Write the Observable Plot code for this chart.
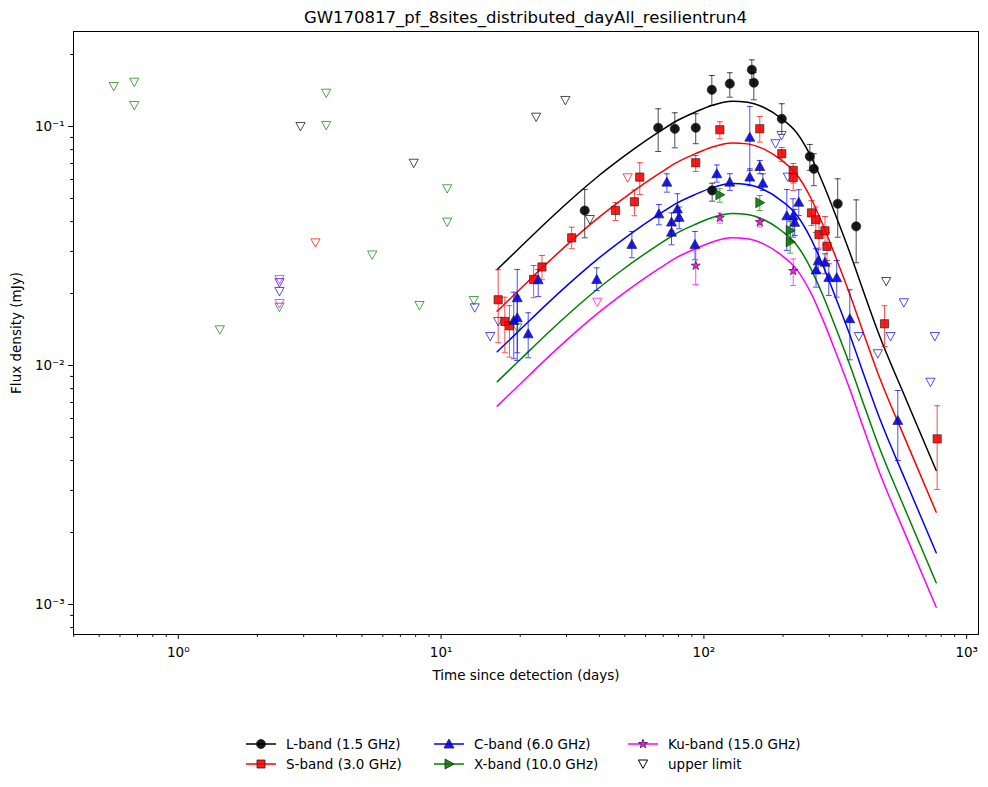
<!DOCTYPE html>
<html><head><meta charset="utf-8">
<script src="https://cdn.jsdelivr.net/npm/d3@7"></script>
<script src="https://cdn.jsdelivr.net/npm/@observablehq/plot@0.6"></script>
<style>
body{margin:0;background:#fff;font-family:"DejaVu Sans",sans-serif;color:#000;}
#title{margin-left:73px;width:905px;height:26px;text-align:center;font-size:16.5px;line-height:26px;}
#title span{position:relative;top:5px;}
#chart svg{display:block;}
#legend{position:relative;width:988px;height:96px;font-size:13.5px;}
#legend .it{position:absolute;}
#legend .lab{position:absolute;white-space:nowrap;line-height:16px;}
</style></head><body>
<div id="title"><span>GW170817_pf_8sites_distributed_dayAll_resilientrun4</span></div>
<div id="chart"></div>
<div id="legend"></div>
<script>
// ---------- data ----------
const titleText = "GW170817_pf_8sites_distributed_dayAll_resilientrun4";
const xLabel = "Time since detection (days)";
const yLabel = "Flux density (mJy)";
const legendLabels = ["L-band (1.5 GHz)", "S-band (3.0 GHz)", "C-band (6.0 GHz)", "X-band (10.0 GHz)", "Ku-band (15.0 GHz)", "upper limit"];

const xMajorTicks = [1, 10, 100, 1000];
const xMinorTicks = [0.4,0.5,0.6,0.7,0.8,0.9,2,3,4,5,6,7,8,9,20,30,40,50,60,70,80,90,200,300,400,500,600,700,800,900];
const yMajorTicks = [0.001, 0.01, 0.1];
const yMinorTicks = [0.0008,0.0009,0.002,0.003,0.004,0.005,0.006,0.007,0.008,0.009,0.02,0.03,0.04,0.05,0.06,0.07,0.08,0.09,0.2];

// model curves
const curveTime = [16.35,20.05,24.96,31.08,38.68,48.16,59.95,68.38,77.96,92.9,106.9,128.1,146.5,168.6,197.4,225.1,254.4,285.1,319.6,361.3,404.8,457.7,590.1,765.5];
const curveL = [0.02522,0.03131,0.03947,0.04927,0.06060,0.07312,0.08695,0.09576,0.1049,0.1150,0.1224,0.1276,0.1264,0.1204,0.1080,0.0944,0.0756,0.05719,0.04161,0.02914,0.02040,0.01401,0.007139,0.003636];
const curveS = [0.01688,0.02095,0.02641,0.03297,0.04055,0.04893,0.05818,0.06407,0.07019,0.07695,0.08190,0.08538,0.08457,0.08056,0.07226,0.06316,0.05058,0.03827,0.02784,0.01950,0.01365,0.00937,0.004777,0.002433];
const curveC = [0.01141,0.01416,0.01785,0.02228,0.02741,0.03307,0.03933,0.04331,0.04745,0.05201,0.05536,0.05771,0.05717,0.05446,0.04885,0.04270,0.03419,0.02587,0.01882,0.01318,0.00923,0.00634,0.003229,0.001645];
const curveX = [0.008550,0.01061,0.01338,0.01670,0.02054,0.02479,0.02948,0.03246,0.03556,0.03899,0.04149,0.04326,0.04285,0.04082,0.03661,0.03200,0.02563,0.01939,0.01411,0.00988,0.00692,0.00475,0.002420,0.001233];
const curveKu = [0.006759,0.008391,0.01058,0.01320,0.01624,0.01960,0.02330,0.02566,0.02811,0.03082,0.03280,0.03420,0.03388,0.03227,0.02894,0.02530,0.02026,0.01533,0.01115,0.00781,0.00547,0.00375,0.001913,0.000974];

// detections
const lTime = [35.2,67.0,77.5,93.1,107.2,107.5,125.5,152.2,154.9,197.9,253,262,323,379.7];
const lFlux = [0.0445,0.0988,0.0978,0.0988,0.1424,0.0540,0.1510,0.1727,0.1524,0.1077,0.0749,0.0665,0.0475,0.0382];
const lLo   = [0.0342,0.0786,0.0814,0.0847,0.1224,0.0487,0.1326,0.1570,0.1293,0.0926,0.0655,0.0565,0.0344,0.0269];
const lHi   = [0.0545,0.1186,0.1141,0.1130,0.1634,0.0579,0.1678,0.1900,0.1680,0.1245,0.0841,0.0769,0.0604,0.0493];

const sTime = [16.49,17.48,18.2,22.5,24.2,31.4,46.1,54.4,57.0,93.1,115,163.2,197.9,218.7,218.7,256.7,266.6,274.2,288.9,294.1,486.8,772];
const sFlux = [0.01883,0.01528,0.01466,0.0229,0.02583,0.0342,0.0445,0.0484,0.0614,0.0705,0.0969,0.0978,0.0769,0.0655,0.0612,0.0435,0.0407,0.03526,0.0366,0.0315,0.01494,0.00493];
const sLo   = [0.01245,0.0113,0.01084,0.0192,0.02284,0.0308,0.0404,0.0423,0.0519,0.0648,0.0888,0.0860,0.0714,0.0580,0.0540,0.0385,0.0360,0.0310,0.0320,0.0275,0.0120,0.00303];
const sHi   = [0.02515,0.0193,0.0178,0.0262,0.02886,0.0379,0.0481,0.0543,0.0705,0.0756,0.1046,0.1101,0.0817,0.0700,0.0660,0.0490,0.0460,0.0400,0.0420,0.0360,0.01778,0.00678];

const cTime = [18.9,19.49,19.49,21.45,23.42,39.1,53.2,67.4,72.3,75.3,75.3,79.3,80.5,92.5,112,125.5,149.5,149.5,163.2,167.6,206.8,218.3,221.6,229.6,267.1,272.3,288.9,298.7,320.2,359.1,546.8];
const cFlux = [0.01543,0.0192,0.01584,0.01357,0.02284,0.0229,0.0321,0.0431,0.0585,0.0398,0.0361,0.0452,0.0417,0.0321,0.0634,0.0585,0.0902,0.0614,0.068,0.0579,0.0423,0.0422,0.0397,0.0482,0.0251,0.0274,0.02704,0.02334,0.0233,0.01569,0.00589];
const cLo   = [0.01067,0.01049,0.0113,0.01077,0.01944,0.0206,0.02823,0.03879,0.05311,0.0365,0.03198,0.0400,0.03733,0.02768,0.0585,0.0540,0.0655,0.0565,0.0634,0.0540,0.03029,0.03442,0.0350,0.04242,0.02127,0.0245,0.02419,0.01963,0.01931,0.01056,0.004003];
const cHi   = [0.02026,0.02522,0.0195,0.01662,0.02522,0.02563,0.03637,0.04717,0.0634,0.0435,0.0395,0.0523,0.0460,0.03637,0.0690,0.0634,0.1213,0.0665,0.07207,0.0634,0.05451,0.04982,0.0450,0.05435,0.03079,0.0305,0.02934,0.02663,0.02749,0.02074,0.00786];

const xTime = [115,163.2,213,213];
const xFlux = [0.0518,0.048,0.0367,0.0329];
const xLo   = [0.0482,0.0445,0.0330,0.0295];
const xHi   = [0.0549,0.0514,0.0400,0.0365];

const kuTime = [93.1,115,163.2,218.7];
const kuFlux = [0.02616,0.0415,0.0398,0.02485];
const kuLo   = [0.0218,0.0394,0.0380,0.0216];
const kuHi   = [0.0305,0.0434,0.0411,0.0279];

// upper limits
const ulTime = [0.568,0.68,0.68,3.655,3.655,10.55,10.55,5.47,2.427,8.278,1.439,13.32,19.5,
                2.917,7.87,23.0,29.7,36.8,494,
                3.327,51.3,
                2.427,2.427,39.3,
                2.427,2.427,13.43,15.38,16.49,187.3,197.4,208.6,388.6,512.9,756,459,576.5,728];
const ulFlux = [0.147,0.1532,0.1224,0.1378,0.101,0.0549,0.0398,0.029,0.01753,0.01782,0.0141,0.0187,0.01438,
                0.1,0.0702,0.1094,0.1285,0.0408,0.02246,
                0.0326,0.061,
                0.0229,0.01817,0.0184,
                0.0222,0.0204,0.01743,0.01322,0.01528,0.0847,0.0917,0.0614,0.01322,0.01322,0.01322,0.0112,0.0183,0.00851];
const ulBand = ["X","X","X","X","X","X","X","X","X","X","X","X","X",
                "L","L","L","L","L","L",
                "S","S",
                "Ku","Ku","Ku",
                "C","C","C","C","C","C","C","C","C","C","C","C","C","C"];

// ---------- drawing ----------
const bandColor = {L:"#000000", S:"#ff0000", C:"#0000ff", X:"#008000", Ku:"#ff00ff"};
const sup = {"-":"\u207B","0":"\u2070","1":"\u00B9","2":"\u00B2","3":"\u00B3"};
const fmt = d => "10" + String(Math.round(Math.log10(d))).split("").map(c => sup[c]).join("");

const capSym = {draw(c){ c.moveTo(-3,0); c.lineTo(3,0); }};
const circleSym = {draw(c){ c.moveTo(4.6,0); c.arc(0,0,4.6,0,2*Math.PI); c.closePath(); }};
const squareSym = {draw(c){ c.moveTo(-4.1,-4.1); c.lineTo(4.1,-4.1); c.lineTo(4.1,4.1); c.lineTo(-4.1,4.1); c.closePath(); }};
const upTri = {draw(c){ c.moveTo(0,-5); c.lineTo(5,4); c.lineTo(-5,4); c.closePath(); }};
const rightTri = {draw(c){ c.moveTo(5,0); c.lineTo(-4,-5); c.lineTo(-4,5); c.closePath(); }};
const downTri = {draw(c){ c.moveTo(-4.6,-4); c.lineTo(4.6,-4); c.lineTo(0,4.4); c.closePath(); }};
const starSym = {draw(c){
  const R = 4.8, r = R*0.382;
  for (let i = 0; i < 10; i++) {
    const a = -Math.PI/2 + i*Math.PI/5, rr = i % 2 ? r : R;
    const x = rr*Math.cos(a), y = rr*Math.sin(a);
    if (i === 0) c.moveTo(x,y); else c.lineTo(x,y);
  }
  c.closePath();
}};

const rows = (t,f,lo,hi) => t.map((d,i) => ({t:d, f:f[i], lo:lo[i], hi:hi[i]}));
const bands = [
  {key:"L", data:rows(lTime,lFlux,lLo,lHi), curve:curveL, sym:circleSym},
  {key:"S", data:rows(sTime,sFlux,sLo,sHi), curve:curveS, sym:squareSym},
  {key:"C", data:rows(cTime,cFlux,cLo,cHi), curve:curveC, sym:upTri},
  {key:"X", data:rows(xTime,xFlux,xLo,xHi), curve:curveX, sym:rightTri},
  {key:"Ku", data:rows(kuTime,kuFlux,kuLo,kuHi), curve:curveKu, sym:starSym}
];
const ul = ulTime.map((t,i) => ({t, f:ulFlux[i], band:ulBand[i]}));

const marks = [];
for (const b of bands) {
  marks.push(Plot.line(curveTime.map((t,i) => ({t, f:b.curve[i]})),
    {x:"t", y:"f", stroke:bandColor[b.key], strokeWidth:1.5, curve:"monotone-x"}));
}
for (const b of bands) {
  const col = bandColor[b.key];
  marks.push(Plot.ruleX(b.data, {x:"t", y1:"lo", y2:"hi", stroke:col, strokeOpacity:0.7, strokeWidth:1}));
  marks.push(Plot.dot(b.data, {x:"t", y:"lo", symbol:capSym, stroke:col, strokeOpacity:0.7, strokeWidth:1, fill:"none"}));
  marks.push(Plot.dot(b.data, {x:"t", y:"hi", symbol:capSym, stroke:col, strokeOpacity:0.7, strokeWidth:1, fill:"none"}));
}
for (const k of ["X","L","S","Ku","C"]) {
  marks.push(Plot.dot(ul.filter(d => d.band === k),
    {x:"t", y:"f", symbol:downTri, stroke:bandColor[k], strokeOpacity:0.7, strokeWidth:1, fill:"white", fillOpacity:0}));
}
for (const b of bands) {
  marks.push(Plot.dot(b.data, {x:"t", y:"f", symbol:b.sym, fill:bandColor[b.key], fillOpacity:0.9,
    stroke:"#222", strokeOpacity:0.85, strokeWidth:0.8}));
}
marks.push(Plot.frame({stroke:"black", strokeWidth:1}));
marks.push(Plot.axisX({ticks:xMajorTicks, tickFormat:fmt, tickSize:4.9, tickPadding:8, fontSize:13.5,
  label:xLabel, labelAnchor:"center", labelArrow:"none", labelOffset:45}));
marks.push(Plot.axisX({ticks:xMinorTicks, tickFormat:() => "", tickSize:2.8, label:null}));
marks.push(Plot.axisY({ticks:yMajorTicks, tickFormat:fmt, tickSize:4.9, tickPadding:4, fontSize:13.5,
  label:yLabel, labelAnchor:"center", labelArrow:"none", labelOffset:62}));
marks.push(Plot.axisY({ticks:yMinorTicks, tickFormat:() => "", tickSize:2.8, label:null}));

const chart = Plot.plot({
  width:988, height:665,
  marginLeft:73, marginRight:10, marginTop:5, marginBottom:57,
  style:{fontFamily:"DejaVu Sans", fontSize:"13.5px", background:"white", overflow:"visible"},
  x:{type:"log", domain:[0.3993, 1108.9]},
  y:{type:"log", domain:[0.0007487, 0.2497]},
  marks
});
document.getElementById("chart").appendChild(chart);
document.querySelector("#title span").textContent = titleText;

// ---------- legend ----------
const leg = document.getElementById("legend");
const colX = [246, 434, 628];
const rowY = [53, 73];
const legSyms = [
  {key:"L", sym:"circle"}, {key:"S", sym:"square"}, {key:"C", sym:"up"},
  {key:"X", sym:"right"}, {key:"Ku", sym:"star"}, {key:null, sym:"down"}
];
const symPath = {
  circle:"M19.5,10A4.5,4.5,0,1,1,10.5,10A4.5,4.5,0,1,1,19.5,10Z",
  square:"M11,6H19V14H11Z",
  up:"M15,5L20,14L10,14Z",
  right:"M20,10L11,5L11,15Z",
  down:"M10.4,6L19.6,6L15,14.4Z",
  star:(() => { const R=4.8,r=R*0.382; let p=""; for(let i=0;i<10;i++){const a=-Math.PI/2+i*Math.PI/5, rr=i%2?r:R; p+=(i?"L":"M")+(15+rr*Math.cos(a)).toFixed(2)+","+(10+rr*Math.sin(a)).toFixed(2);} return p+"Z"; })()
};
legSyms.forEach((s, i) => {
  const col = Math.floor(i / 2), row = i % 2;
  const x = colX[col], y = rowY[row];
  const color = s.key ? bandColor[s.key] : "#000";
  const line = s.key ? `<line x1="0" x2="30" y1="10" y2="10" stroke="${color}" stroke-width="1.5"/>` : "";
  const mk = s.key
    ? `<path d="${symPath[s.sym]}" fill="${color}" fill-opacity="0.9" stroke="#222" stroke-width="0.8"/>`
    : `<path d="${symPath[s.sym]}" fill="none" stroke="#000" stroke-width="1"/>`;
  const it = document.createElement("div");
  it.className = "it";
  it.style.left = x + "px"; it.style.top = (y - 10) + "px";
  it.innerHTML = `<svg width="30" height="20">${line}${mk}</svg>`;
  leg.appendChild(it);
  const lab = document.createElement("div");
  lab.className = "lab";
  lab.style.left = (x + 40) + "px"; lab.style.top = (y - 8) + "px";
  lab.textContent = legendLabels[i];
  leg.appendChild(lab);
});
</script>
</body></html>
